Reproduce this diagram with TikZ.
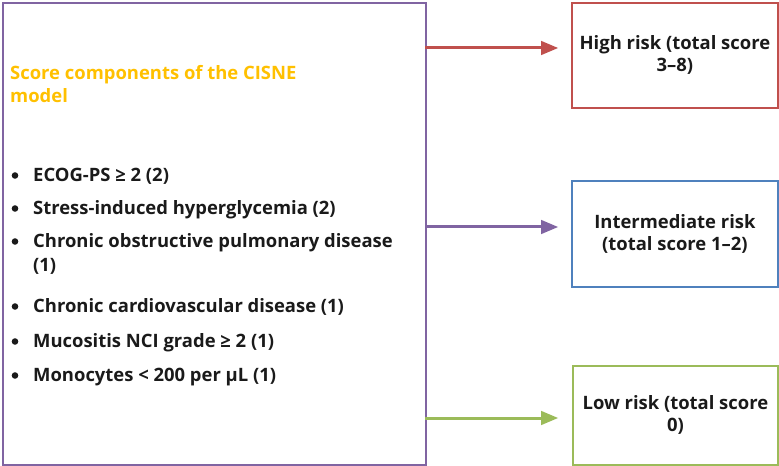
\documentclass[tikz,border=0pt]{standalone}
\usepackage{fontspec}
\setmainfont{Open Sans}
\usetikzlibrary{arrows}
\definecolor{cpurple}{HTML}{8064A2}
\definecolor{cred}{HTML}{C0504D}
\definecolor{cblue}{HTML}{4F81BD}
\definecolor{cgreen}{HTML}{9BBB59}
\definecolor{corange}{HTML}{FFC000}
\definecolor{ctext}{HTML}{1A1A1A}

\begin{document}
\begin{tikzpicture}[x=1bp,y=-1bp]
			\tikzstyle{es} = [-triangle 45, line width=3bp]
			\tikzstyle{box} = [draw, line width=1.8bp, rectangle, inner sep=0pt, anchor=north west]
			\tikzstyle{txt} = [anchor=base west, inner sep=0pt, text=ctext, font=\fontsize{18.5}{22}\selectfont\bfseries]
			\tikzstyle{rtxt} = [align=center, text=ctext, font=\fontsize{18.5}{22}\selectfont\bfseries]
			\useasboundingbox (0,0) rectangle (779,466);
			\node [box, draw=cpurple, minimum width=423bp, minimum height=462bp] (comp) at (2,2) {};
			\node [box, draw=cred, minimum width=206bp, minimum height=105bp] (high) at (571,2) {};
			\node [box, draw=cblue, minimum width=206bp, minimum height=106bp] (mid) at (571,180) {};
			\node [box, draw=cgreen, minimum width=205bp, minimum height=99bp] (low) at (572,365) {};
			\node [rtxt] at (high.center) {High risk (total score\\3--8)};
			\node [rtxt] at (mid.center) {Intermediate risk\\(total score 1--2)};
			\node [rtxt] at (low.center) {Low risk (total score\\0)};
			\node [txt, text=corange] (t1) at (10,80) {Score components of the CISNE};
			\node [txt, text=corange] (t2) at (10,103) {model};
			\node [txt] (b1) at (33,182) {ECOG-PS ≥ 2 (2)};
			\node [txt] (b2) at (33,215) {Stress-induced hyperglycemia (2)};
			\node [txt] (b3) at (33,248) {Chronic obstructive pulmonary disease};
			\node [txt] (b3b) at (33,272) {(1)};
			\node [txt] (b4) at (33,313) {Chronic cardiovascular disease (1)};
			\node [txt] (b5) at (33,348) {Mucositis NCI grade ≥ 2 (1)};
			\node [txt] (b6) at (33,382) {Monocytes < 200 per µL (1)};
			\foreach \b in {b1,b2,b3,b4,b5,b6}
				\fill [ctext] ([xshift=-18bp,yshift=6.5bp]\b.base west) circle (3.3bp);
			\coordinate (a1) at (425,48);
			\coordinate (a2) at (558,48);
			\coordinate (a3) at (425,227);
			\coordinate (a4) at (558,227);
			\coordinate (a5) at (425,418);
			\coordinate (a6) at (558,418);
			\draw [es, cred] (a1) -- (a2);
			\draw [es, cpurple] (a3) -- (a4);
			\draw [es, cgreen] (a5) -- (a6);
		\end{tikzpicture}
\end{document}
